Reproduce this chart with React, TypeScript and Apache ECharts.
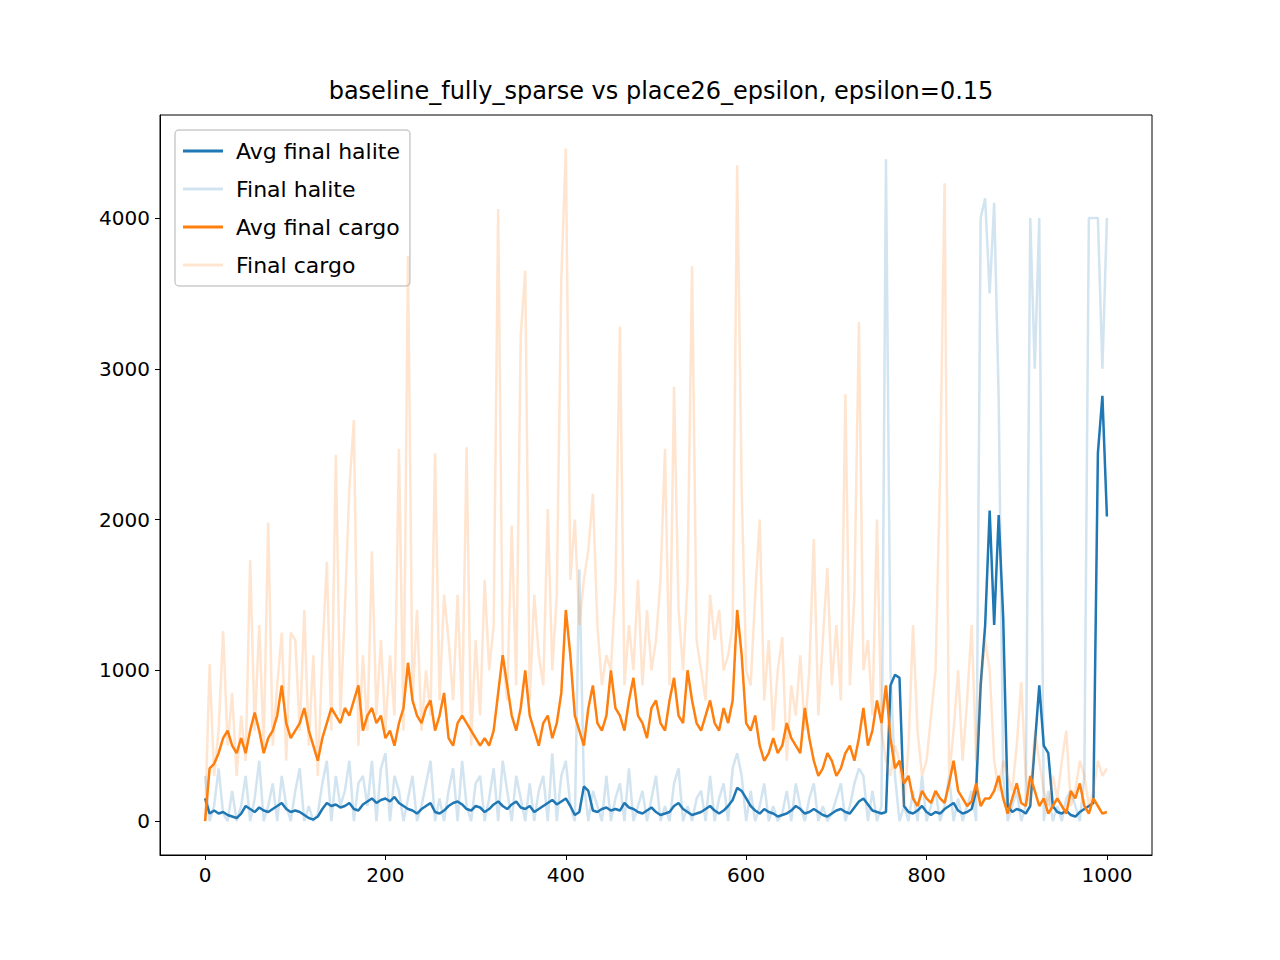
import { useEffect, useRef } from 'react';
import * as echarts from 'echarts';

// sampled every 5 episodes, 0..1000
const STEP = 5;

const avgHalite = [
  150, 50, 70, 50, 60, 40, 30, 20, 50, 100, 80, 60, 90, 70, 60, 80, 100, 120, 80, 60,
  70, 60, 40, 20, 10, 30, 80, 120, 100, 110, 90, 100, 120, 80, 70, 110, 130, 150, 120, 140,
  150, 130, 160, 120, 100, 80, 70, 50, 80, 100, 120, 60, 50, 70, 100, 120, 130, 110, 80, 70,
  100, 90, 60, 80, 110, 130, 100, 80, 110, 130, 90, 80, 100, 60, 80, 100, 120, 140, 110, 130,
  150, 100, 40, 60, 230, 200, 70, 60, 80, 90, 70, 80, 70, 120, 90, 80, 60, 50, 70, 90,
  60, 40, 50, 60, 100, 120, 80, 60, 40, 50, 60, 80, 100, 70, 50, 70, 100, 140, 220, 200,
  150, 100, 70, 50, 80, 60, 50, 30, 40, 50, 70, 100, 80, 50, 60, 80, 60, 40, 30, 50,
  70, 80, 60, 50, 90, 130, 150, 110, 70, 60, 50, 60, 900, 970, 950, 100, 60, 50, 70, 100,
  60, 40, 60, 50, 80, 100, 120, 70, 50, 60, 80, 200, 900, 1300, 2060, 1300, 2030, 1350, 100, 60,
  80, 70, 50, 100, 500, 900, 500, 450, 100, 60, 50, 70, 40, 30, 60, 80, 100, 120, 2440, 2820,
  2020,
];

const finalHalite = [
  300, 0, 100, 350, 50, 0, 200, 0, 100, 300, 0, 150, 400, 0, 100, 250, 0, 300, 100, 0,
  200, 350, 0, 100, 0, 50, 250, 400, 0, 300, 100, 200, 400, 0, 250, 300, 100, 400, 0, 350,
  450, 0, 300, 200, 0, 150, 300, 0, 100, 250, 400, 0, 150, 0, 200, 350, 0, 400, 100, 0,
  250, 300, 0, 150, 350, 0, 400, 200, 0, 300, 150, 0, 250, 0, 200, 300, 0, 450, 0, 300,
  400, 100, 0, 1670, 250, 0, 200, 100, 0, 300, 0, 150, 250, 0, 350, 0, 100, 200, 0, 150,
  300, 0, 100, 0, 250, 350, 0, 100, 0, 150, 200, 0, 300, 0, 150, 250, 0, 350, 450, 300,
  0, 200, 0, 100, 250, 0, 100, 0, 50, 200, 0, 250, 100, 0, 150, 250, 0, 100, 0, 50,
  150, 250, 0, 100, 250, 350, 300, 0, 200, 0, 100, 4390, 1000, 300, 0, 100, 0, 200, 0, 300,
  0, 100, 200, 0, 100, 300, 0, 150, 0, 100, 200, 0, 4000, 4130, 3500, 4100, 2800, 300, 0, 100,
  200, 0, 100, 4000, 3000, 4000, 0, 200, 0, 100, 0, 150, 200, 100, 0, 300, 4000, 4000, 4000, 3000,
  4000,
];

const avgCargo = [
  0, 350, 380, 450, 550, 600, 500, 450, 550, 450, 600, 720, 600, 450, 550, 600, 700, 900, 650, 550,
  600, 650, 750, 600, 500, 400, 550, 650, 750, 700, 650, 750, 700, 800, 900, 600, 700, 750, 650, 700,
  550, 600, 500, 650, 750, 1050, 800, 700, 650, 750, 800, 600, 700, 850, 550, 500, 650, 700, 650, 600,
  550, 500, 550, 500, 600, 850, 1100, 900, 700, 600, 750, 1000, 700, 600, 500, 650, 700, 550, 650, 850,
  1400, 1100, 700, 600, 500, 750, 900, 650, 600, 700, 1000, 750, 700, 600, 800, 950, 700, 650, 550, 750,
  800, 650, 600, 800, 950, 700, 650, 1000, 800, 650, 600, 700, 800, 650, 600, 750, 650, 800, 1400, 1100,
  650, 600, 700, 500, 400, 450, 550, 450, 500, 650, 550, 500, 450, 750, 550, 400, 300, 350, 450, 400,
  300, 350, 450, 500, 400, 550, 750, 500, 600, 800, 650, 900, 550, 350, 400, 250, 300, 150, 100, 200,
  150, 120, 200, 150, 120, 250, 400, 200, 150, 100, 130, 250, 100, 150, 150, 200, 300, 150, 50, 150,
  250, 120, 100, 300, 200, 100, 150, 50, 100, 150, 100, 50, 200, 150, 250, 100, 50, 150, 100, 50,
  60,
];

const finalCargo = [
  0, 1040, 300, 600, 1260, 500, 850, 300, 700, 400, 1730, 600, 1300, 500, 1980, 500, 900, 1250, 400, 1250,
  1200, 600, 1400, 500, 1100, 300, 1100, 1720, 600, 2430, 700, 1400, 2210, 2660, 500, 1100, 600, 1790, 700, 1200,
  600, 1100, 700, 2470, 600, 3750, 800, 1400, 600, 1000, 700, 2440, 800, 1500, 1200, 800, 1500, 700, 2480, 500,
  1200, 700, 1600, 1000, 1300, 4060, 1100, 800, 1960, 900, 3220, 3650, 800, 1500, 1100, 900, 2070, 1000, 1500, 3600,
  4460, 1600, 2000, 1300, 1600, 1800, 2170, 1300, 900, 1100, 1000, 1550, 3280, 900, 1300, 1000, 1600, 900, 1400, 1000,
  1200, 1600, 2470, 900, 2880, 1400, 1000, 1600, 3680, 1200, 1000, 800, 1500, 1200, 1400, 1000, 1100, 1300, 4350, 2200,
  1000, 900, 1500, 2000, 800, 1200, 600, 1000, 1220, 400, 900, 700, 1100, 600, 1000, 1870, 700, 1200, 1680, 900,
  1300, 800, 2830, 900, 1500, 3310, 1000, 1200, 700, 2000, 600, 400, 300, 500, 400, 100, 500, 1300, 600, 300,
  400, 700, 1000, 2290, 4230, 300, 600, 1000, 400, 800, 1300, 400, 900, 1200, 1000, 400, 200, 400, 300, 200,
  500, 920, 300, 100, 600, 400, 200, 100, 300, 150, 400, 600, 100, 200, 400, 300, 100, 200, 400, 300,
  350,
];

const xTicks = [0, 200, 400, 600, 800, 1000];
const yTicks = [0, 1000, 2000, 3000, 4000];

const pts = (arr: number[]) => arr.map((v, i) => [i * STEP, v]);

export default function App() {
  const ref = useRef<HTMLDivElement>(null);

  useEffect(() => {
    if (!ref.current) return;
    const chart = echarts.init(ref.current, undefined, { renderer: 'svg' });
    const font = 'DejaVu Sans';
    const line = (name: string, data: number[], color: string, z: number) => ({
      name,
      type: 'line',
      data: pts(data),
      symbol: 'none',
      z,
      lineStyle: { color, width: 2.5 },
      itemStyle: { color },
    });
    chart.setOption({
      animation: false,
      backgroundColor: '#fff',
      textStyle: { fontFamily: font },
      title: {
        text: 'baseline_fully_sparse vs place26_epsilon, epsilon=0.15',
        left: 648,
        top: 66,
        textAlign: 'center',
        textStyle: { fontSize: 24, fontWeight: 'normal', color: '#000', fontFamily: font },
      },
      legend: {
        orient: 'vertical',
        left: 167,
        top: 122,
        icon: 'rect',
        itemWidth: 40,
        itemHeight: 3,
        itemGap: 16,
        padding: [10, 10, 10, 8],
        backgroundColor: 'rgba(255,255,255,0.8)',
        borderColor: '#ccc',
        borderWidth: 1.5,
        borderRadius: 4,
        textStyle: { fontSize: 22, color: '#000', fontFamily: font, padding: [0, 0, 0, 8] },
        data: ['Avg final halite', 'Final halite', 'Avg final cargo', 'Final cargo'],
      },
      grid: {
        left: 152,
        top: 107,
        width: 992,
        height: 740,
        show: true,
        borderColor: '#000',
        borderWidth: 1,
      },
      xAxis: {
        type: 'value',
        min: -50,
        max: 1050,
        splitLine: { show: false },
        axisLine: { show: true, onZero: false, lineStyle: { color: '#000' } },
        axisTick: { show: true, customValues: xTicks, length: 5, lineStyle: { color: '#000' } },
        axisLabel: { customValues: xTicks, fontSize: 20, color: '#000', margin: 10, formatter: (v: number) => String(v) },
      },
      yAxis: {
        type: 'value',
        min: -225,
        max: 4683,
        splitLine: { show: false },
        axisLine: { show: true, onZero: false, lineStyle: { color: '#000' } },
        axisTick: { show: true, customValues: yTicks, length: 5, lineStyle: { color: '#000' } },
        axisLabel: { customValues: yTicks, fontSize: 20, color: '#000', margin: 10, formatter: (v: number) => String(v) },
      },
      series: [
        line('Avg final halite', avgHalite, '#1f77b4', 3),
        line('Final halite', finalHalite, 'rgba(31,119,180,0.2)', 2),
        line('Avg final cargo', avgCargo, '#ff7f0e', 5),
        line('Final cargo', finalCargo, 'rgba(255,127,14,0.2)', 4),
      ],
    });
    return () => chart.dispose();
  }, []);

  return <div ref={ref} style={{ width: 1264, height: 944 }} />;
}
